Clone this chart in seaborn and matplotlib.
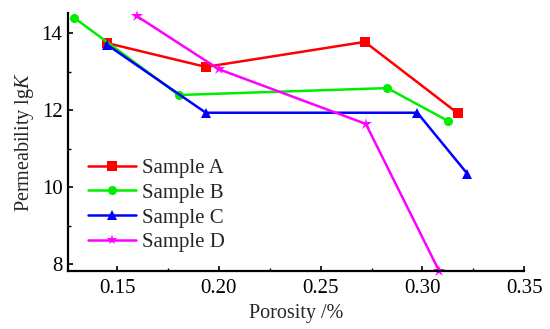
import matplotlib
matplotlib.use("Agg")
import matplotlib.pyplot as plt
import seaborn as sns
import pandas as pd
from matplotlib.ticker import MultipleLocator

samples = ["Sample A", "Sample B", "Sample C", "Sample D"]
porosity_a = [0.145, 0.1936, 0.2717, 0.3173]
perm_a = [13.74, 13.12, 13.77, 11.92]
porosity_b = [0.1291, 0.1803, 0.2828, 0.3128]
perm_b = [14.39, 12.39, 12.57, 11.71]
porosity_c = [0.145, 0.1936, 0.2975, 0.322]
perm_c = [13.70, 11.93, 11.93, 10.35]
porosity_d = [0.1597, 0.2000, 0.2722, 0.3082]
perm_d = [14.44, 13.06, 11.64, 7.82]

xs = [porosity_a, porosity_b, porosity_c, porosity_d]
ys = [perm_a, perm_b, perm_c, perm_d]
rows = []
for name, x, y in zip(samples, xs, ys):
    for i, (a, b) in enumerate(zip(x, y)):
        rows.append({"Sample": name, "Porosity": a, "Perm": b, "order": i})
df = pd.DataFrame(rows)

sns.set_theme(style="white")
plt.rcParams["font.family"] = ["Liberation Serif", "DejaVu Serif"]
plt.rcParams["mathtext.fontset"] = "custom"
plt.rcParams["mathtext.rm"] = "Liberation Serif"
plt.rcParams["mathtext.it"] = "Liberation Serif:italic"

colors = ["#FF0000", "#00EE00", "#0000FF", "#FF00FF"]
markers = ["s", "o", "^", "*"]

fig = plt.figure(figsize=(5.5, 3.29), dpi=100)
ax = fig.add_axes([0.1236, 0.1763, 0.8295, 0.7842])

sns.lineplot(data=df, x="Porosity", y="Perm", hue="Sample", style="Sample",
             palette=colors, markers=markers, dashes=False, sort=False,
             estimator=None, linewidth=1.8, markersize=6.5, markeredgewidth=0,
             ax=ax)

for ln in ax.lines:
    ln.set_clip_on(False)
    if ln.get_marker() == "*":
        ln.set_markersize(9)

ax.set_xlim(0.1259, 0.35)
ax.set_ylim(7.82, 14.52)
ax.set_xticks([0.15, 0.20, 0.25, 0.30, 0.35])
ax.set_xticklabels(["0.15", "0.20", "0.25", "0.30", "0.35"])
ax.xaxis.set_minor_locator(MultipleLocator(0.025))
ax.yaxis.set_major_locator(MultipleLocator(2))
ax.yaxis.set_minor_locator(MultipleLocator(1))
ax.tick_params(which="both", direction="in", labelsize=15, colors="black")
ax.tick_params(which="major", length=3.5, width=1.2, pad=4)
ax.tick_params(axis="x", which="major", pad=6)
ax.tick_params(which="minor", length=2.5, width=1.0)
ax.tick_params(axis="x", bottom=True, which="both")
ax.tick_params(axis="y", left=True, which="both")

for s in ["top", "right"]:
    ax.spines[s].set_visible(False)
for s in ["left", "bottom"]:
    ax.spines[s].set_color("black")
    ax.spines[s].set_linewidth(1.6)

ax.set_xlabel("Porosity /%", fontsize=14.5, labelpad=4)
ax.set_ylabel(r"Permeability lg$\mathit{K}$", fontsize=14.5, labelpad=4)

leg = ax.legend(loc="lower left", bbox_to_anchor=(0.025, 0.04), frameon=False,
                fontsize=15, handlelength=2.3, labelspacing=0.25,
                handletextpad=0.3, borderaxespad=0)
for h in leg.legend_handles:
    h.set_linewidth(1.8)
    if h.get_marker() == "*":
        h.set_markersize(8)

fig.savefig("out.png", dpi=100)
